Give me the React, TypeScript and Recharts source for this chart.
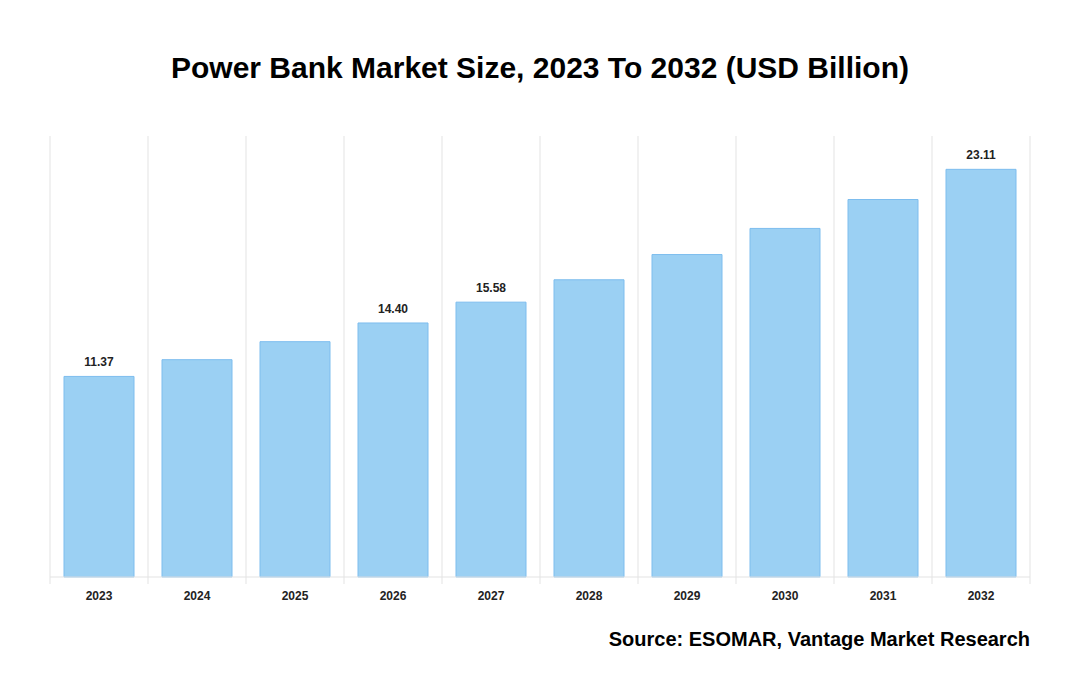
import React from 'react';
import { Bar, BarChart, CartesianGrid, LabelList, XAxis, YAxis } from 'recharts';

const years = ['2023', '2024', '2025', '2026', '2027', '2028', '2029', '2030', '2031', '2032'];
const marketSize = [11.37, 12.32, 13.34, 14.4, 15.58, 16.85, 18.28, 19.76, 21.4, 23.11];
const shownLabels = ['11.37', '', '', '14.40', '15.58', '', '', '', '', '23.11'];

const W = 1080;
const H = 700;
const MARGIN = { top: 136, right: 50, bottom: 93, left: 50 };
const GRID = '#e3e3e3';
const FONT = '"Liberation Sans", Arial, Helvetica, sans-serif';

const data = years.map((y, i) => ({ year: y, value: marketSize[i], label: shownLabels[i] }));

// grid lines sit on the category boundaries, not the centres
function boundaries({ offset }: any) {
  const n = years.length;
  const step = offset.width / n;
  return Array.from({ length: n + 1 }, (_, i) => offset.left + i * step);
}

function YearTick(props: any) {
  const { x, y, payload, index } = props;
  const half = (W - MARGIN.left - MARGIN.right) / years.length / 2;
  const axisY = y - 8;
  return (
    <g>
      <line x1={x - half} y1={axisY} x2={x - half} y2={axisY + 7} stroke={GRID} />
      {index === years.length - 1 && (
        <line x1={x + half} y1={axisY} x2={x + half} y2={axisY + 7} stroke={GRID} />
      )}
      <text x={x} y={axisY + 23} textAnchor="middle" fontSize={12} fontWeight="bold" fill="#222" fontFamily={FONT}>
        {payload.value}
      </text>
    </g>
  );
}

export default function App() {
  return (
    <div style={{ position: 'absolute', left: 0, top: 0, width: W, height: H, background: '#fff', fontFamily: FONT }}>
      <div
        style={{
          position: 'absolute',
          top: 51,
          left: 0,
          width: W,
          textAlign: 'center',
          fontSize: 30,
          fontWeight: 'bold',
          color: '#000',
        }}
      >
        Power Bank Market Size, 2023 To 2032 (USD Billion)
      </div>
      <BarChart width={W} height={H} data={data} margin={MARGIN} barCategoryGap="14.3%">
        <CartesianGrid horizontal={false} stroke={GRID} verticalCoordinatesGenerator={boundaries} />
        <XAxis
          dataKey="year"
          axisLine={{ stroke: GRID }}
          tickLine={false}
          tick={<YearTick />}
          interval={0}
          height={30}
        />
        <YAxis hide domain={[0, 25]} />
        <Bar dataKey="value" fill="#9bd0f3" stroke="#7dbdee" strokeWidth={1} isAnimationActive={false}>
          <LabelList
            dataKey="label"
            position="top"
            offset={10}
            fontSize={12}
            fontWeight="bold"
            fill="#222"
            fontFamily={FONT}
          />
        </Bar>
      </BarChart>
      <div
        style={{
          position: 'absolute',
          top: 628,
          right: 50,
          fontSize: 20,
          fontWeight: 'bold',
          color: '#000',
        }}
      >
        Source: ESOMAR, Vantage Market Research
      </div>
    </div>
  );
}
